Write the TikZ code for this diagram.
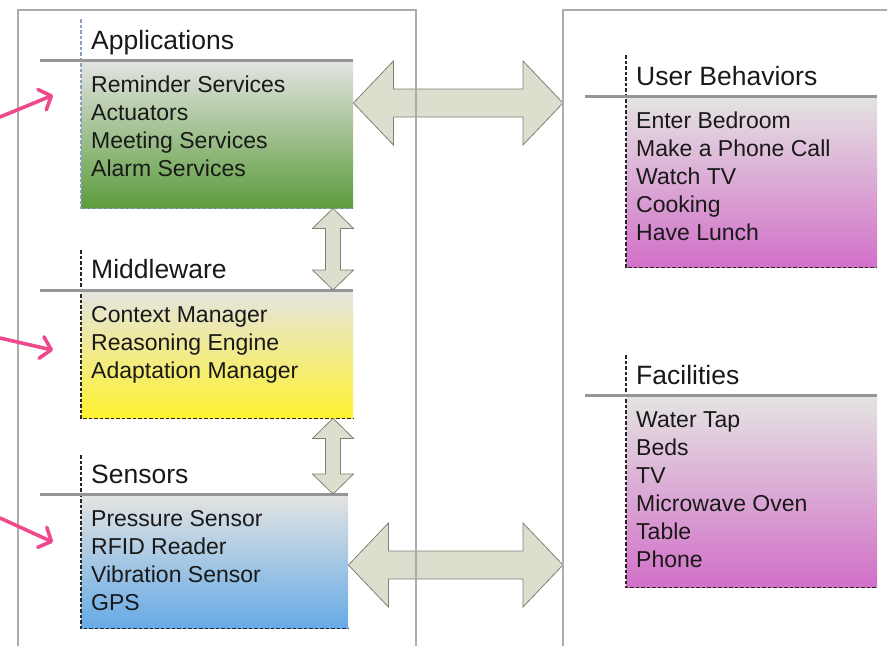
\documentclass[tikz,border=0pt]{standalone}
\usepackage{fontspec}
\setmainfont{Liberation Sans}
\usetikzlibrary{arrows.meta,calc}

\definecolor{framegray}{RGB}{172,172,172}
\definecolor{bargray}{RGB}{150,150,150}
\definecolor{boxtop}{RGB}{228,228,226}
\definecolor{appgreen}{RGB}{92,156,60}
\definecolor{midyellow}{RGB}{255,242,48}
\definecolor{sensblue}{RGB}{102,170,230}
\definecolor{envpink}{RGB}{210,112,200}
\definecolor{linkfill}{RGB}{221,222,206}
\definecolor{linkdraw}{RGB}{128,128,118}
\definecolor{pointpink}{RGB}{240,72,140}
\definecolor{guideblue}{RGB}{140,160,190}

% double arrows between layers
\newcommand\linkh[2]{%
  \draw[link] (#1) -- ($(#1)+(40,-42)$) -- ($(#1)+(40,-14)$) -- ($(#2)+(-40,-14)$)
    -- ($(#2)+(-40,-42)$) -- (#2) -- ($(#2)+(-40,42)$) -- ($(#2)+(-40,14)$)
    -- ($(#1)+(40,14)$) -- ($(#1)+(40,42)$) -- cycle;}
\newcommand\linkv[2]{%
  \draw[link] (#1) -- ($(#1)+(20.5,20)$) -- ($(#1)+(7.5,20)$) -- ($(#2)+(7.5,-20)$)
    -- ($(#2)+(20.5,-20)$) -- (#2) -- ($(#2)+(-20.5,-20)$) -- ($(#2)+(-7.5,-20)$)
    -- ($(#1)+(-7.5,20)$) -- ($(#1)+(-20.5,20)$) -- cycle;}

\tikzset{
  layer/.style={shading=axis, top color=boxtop, inner sep=0, anchor=north west},
  head/.style={anchor=base west, inner sep=0, text=black!90,
    font=\fontsize{26.5}{30}\selectfont},
  items/.style={anchor=north west, inner sep=0, align=left, text=black!90,
    font=\fontsize{23}{28}\selectfont},
  guide/.style={dashed, dash pattern=on 3.5pt off 2pt, line width=1.2pt, black!85},
  bar/.style={line width=3pt, bargray},
  link/.style={fill=linkfill, draw=linkdraw, line width=0.8pt, line join=miter},
  frame/.style={framegray, line width=1.2pt},
  pointer/.style={pointpink, line width=3.6pt, line cap=round,
    -{Straight Barb[round, length=10pt, width=22pt]}}
}

\begin{document}
\begin{tikzpicture}[x=1pt, y=-1pt]
\useasboundingbox (0,0) rectangle (887,646);

% layers
\node[layer, bottom color=appgreen, minimum width=272, minimum height=148] (appbox) at (81,60) {};
\node[layer, bottom color=midyellow, minimum width=272, minimum height=128] (midbox) at (81,290) {};
\node[layer, bottom color=sensblue, minimum width=267, minimum height=134] (sensbox) at (81,494) {};
\node[layer, bottom color=envpink, minimum width=251, minimum height=171] (ubbox) at (626,96) {};
\node[layer, bottom color=envpink, minimum width=251, minimum height=192] (facbox) at (626,395) {};

\draw[guide, guideblue] (81,19) -- (appbox.south west) -- (appbox.south east);
\draw[guide] (81,250) -- (midbox.south west) -- (midbox.south east);
\draw[guide] (81,455) -- (sensbox.south west) -- (sensbox.south east);
\draw[guide] (626,55) -- (ubbox.south west) -- (ubbox.south east);
\draw[guide] (626,355) -- (facbox.south west) -- (facbox.south east);

\draw[bar] (40,60) -- (appbox.north east);
\draw[bar] (40,290) -- (midbox.north east);
\draw[bar] (40,494) -- (sensbox.north east);
\draw[bar] (585,96) -- (ubbox.north east);
\draw[bar] (585,395) -- (facbox.north east);

% titles and contents
\node[head] (apphead) at (91,49) {Applications};
\node[items] (applist) at (91,75.5) {Reminder Services\\Actuators\\Meeting Services\\Alarm Services};

\node[head] (midhead) at (91,278) {Middleware};
\node[items] (midlist) at (91,306.5) {Context Manager\\Reasoning Engine\\Adaptation Manager};

\node[head] (senshead) at (91,483) {Sensors};
\node[items] (senslist) at (91,510.5) {Pressure Sensor\\RFID Reader\\Vibration Sensor\\GPS};

\node[head] (ubhead) at (636,85) {User Behaviors};
\node[items] (ublist) at (636,111.5) {Enter Bedroom\\Make a Phone Call\\Watch TV\\Cooking\\Have Lunch};

\node[head] (fachead) at (636,384) {Facilities};
\node[items] (faclist) at (636,411.5) {Water Tap\\Beds\\TV\\Microwave Oven\\Table\\Phone};

% connectors
\coordinate (rf) at (563,10);
\coordinate (v1) at (333,0);
\coordinate (au-l) at ($(appbox.north east)+(0,43)$);
\coordinate (au-r) at (au-l -| rf);
\coordinate (sf-l) at ($(sensbox.north east)+(0,71)$);
\coordinate (sf-r) at (sf-l -| rf);
\coordinate (am-t) at (appbox.south -| v1);
\coordinate (am-b) at (midbox.north -| v1);
\coordinate (ms-t) at (midbox.south -| v1);
\coordinate (ms-b) at (sensbox.north -| v1);

\linkh{au-l}{au-r}
\linkh{sf-l}{sf-r}
\linkv{am-t}{am-b}
\linkv{ms-t}{ms-b}

% outer frames
\draw[frame] (18,646) -- (18,10) -- (416,10) -- (416,646);
\draw[frame] (rf |- 0,646) -- (rf) -- (887,10);

% pointers from the left
\coordinate (p1) at (0,117);
\coordinate (p2) at (0,338);
\coordinate (p3) at (0,518);
\draw[pointer] (p1) -- ($(appbox.west)+(-28,-39)$);
\draw[pointer] (p2) -- ($(midbox.west)+(-28,-4)$);
\draw[pointer] (p3) -- ($(sensbox.west)+(-28,-19)$);
\end{tikzpicture}
\end{document}
